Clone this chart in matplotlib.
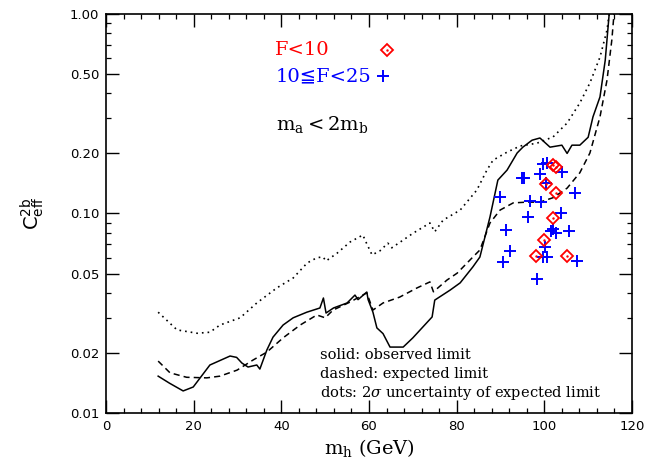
import numpy as np
import matplotlib
matplotlib.use('Agg')
import matplotlib.pyplot as plt
from matplotlib.ticker import FixedLocator, FixedFormatter, MultipleLocator, NullFormatter

plt.rcParams['mathtext.fontset'] = 'dejavuserif'

# observed limit (solid)
obs_x = [11.9, 14.5, 17.6, 19.9, 23.7, 28.3, 29.8, 31.0, 32.4, 34.4, 35.1, 36.7, 38.1, 40.4,
         42.7, 45.8, 48.8, 49.6, 50.2, 51.9, 55.0, 56.8, 57.5, 59.5, 59.8, 60.9, 61.8, 63.2,
         64.8, 66.4, 67.8, 70.0, 72.3, 74.4, 75.0, 78.5, 80.8, 83.7, 85.3, 87.6, 89.4, 91.5,
         93.8, 95.1, 97.2, 99.0, 101.3, 104.0, 105.2, 106.3, 108.1, 110.0, 111.1, 112.7,
         113.9, 114.8]
obs_y = [0.0153, 0.0141, 0.0129, 0.0135, 0.0174, 0.0193, 0.0190, 0.0178, 0.0170, 0.0174,
         0.0166, 0.0207, 0.0240, 0.0276, 0.0300, 0.0320, 0.0336, 0.0377, 0.0317, 0.0336,
         0.0356, 0.0390, 0.0370, 0.0404, 0.0370, 0.0320, 0.0267, 0.0250, 0.0214, 0.0214,
         0.0214, 0.0238, 0.0270, 0.0303, 0.0368, 0.0413, 0.0449, 0.0540, 0.0605, 0.0960,
         0.147, 0.165, 0.201, 0.215, 0.233, 0.239, 0.215, 0.220, 0.200, 0.220, 0.220, 0.241,
         0.305, 0.384, 0.587, 1.0]

# expected limit (dashed)
exp_x = [11.9, 14.6, 18.4, 23.0, 26.0, 29.9, 33.5, 36.7, 40.4, 44.3, 48.1, 50.0, 51.8, 55.7,
         59.5, 60.9, 63.2, 67.0, 71.0, 73.9, 74.7, 77.8, 80.1, 83.7, 85.3, 87.6, 89.9, 92.9,
         96.0, 99.0, 102.0, 105.2, 108.1, 110.4, 112.7, 114.3, 115.4, 115.9]
exp_y = [0.0182, 0.0159, 0.0151, 0.0150, 0.0153, 0.0164, 0.0184, 0.0202, 0.0238, 0.0276,
         0.0310, 0.0300, 0.0328, 0.0360, 0.0400, 0.0328, 0.0356, 0.0381, 0.0424, 0.0454,
         0.0405, 0.0464, 0.0502, 0.0605, 0.0656, 0.0896, 0.104, 0.113, 0.114, 0.114, 0.120,
         0.134, 0.160, 0.201, 0.305, 0.466, 0.74, 1.0]

# 2 sigma band edge (dots)
dot_x = [11.9, 16.2, 20.8, 23.7, 26.0, 30.6, 34.4, 39.0, 42.7, 45.9, 48.1, 49.5, 50.2, 52.7,
         55.7, 58.6, 59.3, 60.7, 62.5, 64.3, 65.2, 67.8, 70.0, 73.9, 75.0, 76.9, 80.8, 84.6,
         86.9, 88.3, 91.5, 94.5, 98.3, 102.0, 105.2, 108.1, 110.4, 112.7, 114.3, 114.8]
dot_y = [0.0320, 0.0261, 0.0251, 0.0254, 0.0276, 0.0300, 0.0356, 0.0424, 0.0475, 0.0565,
         0.0600, 0.0606, 0.0578, 0.0632, 0.0720, 0.0780, 0.0720, 0.0620, 0.0650, 0.0710,
         0.0673, 0.0736, 0.0795, 0.0896, 0.0810, 0.0926, 0.104, 0.131, 0.165, 0.185, 0.203,
         0.218, 0.225, 0.242, 0.284, 0.358, 0.451, 0.608, 0.83, 1.0]

# points with F<10
red_x = [102.0, 102.7, 100.4, 102.7, 102.0, 99.9, 98.1, 105.2]
red_y = [0.175, 0.171, 0.141, 0.127, 0.095, 0.0736, 0.0612, 0.0612]

# points with 10<=F<25
blue_x = [99.7, 100.6, 104.0, 99.0, 94.9, 95.4, 100.4, 107.0, 89.9, 96.7, 99.2, 103.8, 96.3,
          91.3, 101.5, 102.0, 102.7, 105.6, 100.2, 92.2, 90.6, 99.7, 100.6, 107.5, 98.3]
blue_y = [0.177, 0.179, 0.161, 0.158, 0.151, 0.151, 0.142, 0.127, 0.121, 0.116, 0.114, 0.101,
          0.096, 0.0827, 0.0817, 0.0836, 0.0798, 0.0817, 0.068, 0.0649, 0.0571, 0.0605, 0.0605,
          0.0578, 0.047]

ytick_vals = [0.01, 0.02, 0.05, 0.10, 0.20, 0.50, 1.00]
ytick_labels = ['0.01', '0.02', '0.05', '0.10', '0.20', '0.50', '1.00']

fig = plt.figure(figsize=(6.46, 4.63), dpi=100)
ax = fig.add_axes([0.1641, 0.108, 0.8142, 0.8618])

ax.plot(obs_x, obs_y, color='k', lw=1.1)
ax.plot(exp_x, exp_y, color='k', lw=1.1, ls=(0, (4, 2.7)))
ax.plot(dot_x, dot_y, color='k', lw=1.2, ls=(0, (1, 2.4)))

ax.plot(blue_x, blue_y, ls='none', marker='+', ms=8, mew=1.4, color='#0000ff')
ax.plot(red_x, red_y, ls='none', marker='D', ms=6, mew=1.3, mfc='none', mec='#ff0000')
ax.plot(red_x, red_y, ls='none', marker='.', ms=1.5, color='#ff0000')

ax.set_yscale('log')
ax.set_xlim(0, 120)
ax.set_ylim(0.01, 1.0)

ax.xaxis.set_major_locator(MultipleLocator(20))
ax.xaxis.set_minor_locator(MultipleLocator(4))
ax.yaxis.set_major_locator(FixedLocator(ytick_vals))
ax.yaxis.set_major_formatter(FixedFormatter(ytick_labels))
ax.yaxis.set_minor_locator(FixedLocator([k * 10.0 ** e for e in (-2, -1) for k in range(3, 10) if k != 5]))
ax.yaxis.set_minor_formatter(NullFormatter())

ax.tick_params(which='both', direction='in', top=True, right=True, labelsize=9.5)
ax.tick_params(which='major', length=9.5, width=1.0, pad=5)
ax.tick_params(which='minor', length=3.8, width=0.9)
for s in ax.spines.values():
    s.set_linewidth(1.2)

ax.set_xlabel(r'$\mathrm{m_h}$ (GeV)', family='DejaVu Serif', fontsize=14, labelpad=3)
ax.set_ylabel(r'$\mathsf{C}^{\mathsf{2b}}_{\mathsf{eff}}$', fontsize=14, labelpad=16)

# legend-like annotations
ax.text(38.6, 0.66, 'F<10', color='#ff0000', fontsize=14, family=['DejaVu Serif', 'DejaVu Sans'], va='center')
ax.plot([64.1], [0.66], ls='none', marker='D', ms=6, mew=1.3, mfc='none', mec='#ff0000')
ax.plot([64.1], [0.66], ls='none', marker='.', ms=1.5, color='#ff0000')
ax.text(38.6, 0.489, '10≦F<25', color='#0000ff', fontsize=14, family=['DejaVu Serif', 'DejaVu Sans'], va='center')
ax.plot([63.2], [0.489], ls='none', marker='+', ms=8, mew=1.4, color='#0000ff')
ax.text(38.8, 0.28, r'$\mathrm{m_a{<}2m_b}$', color='k', fontsize=14, va='center')

ax.text(48.8, 0.0195, 'solid: observed limit', fontsize=10.5, family='DejaVu Serif', va='center')
ax.text(48.8, 0.0157, 'dashed: expected limit', fontsize=10.5, family='DejaVu Serif', va='center')
ax.text(48.8, 0.0126, r'dots: 2$\sigma$ uncertainty of expected limit', fontsize=10.5, family='DejaVu Serif', va='center')

fig.savefig('out.png', dpi=100)
